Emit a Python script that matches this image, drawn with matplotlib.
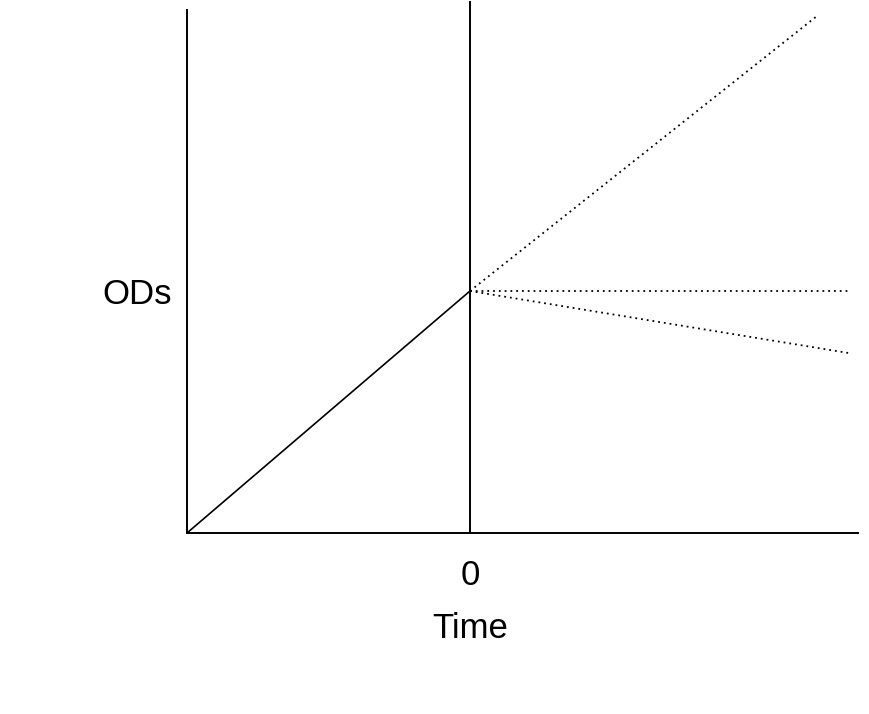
import matplotlib
matplotlib.use("Agg")
from matplotlib import pyplot as plt

plt.rcParams['font.family'] = ['Liberation Sans', 'DejaVu Sans']

# growth before time 0
t_pre = [-1, 0]
od_pre = [0, 1]

# possible outcomes after time 0
t_post = [0, 1.226]
od_up = [1, 2.136]
t_flat = [0, 1.336]
od_flat = [1, 1]
t_down = [0, 1.336]
od_down = [1, 0.744]

fig = plt.figure(figsize=(8.7, 7.14), dpi=100)
ax = fig.add_axes([187 / 870, 181 / 714, 671 / 870, 523 / 714])

ax.plot(t_pre, od_pre, color="black", lw=1.2)
ax.plot(t_post, od_up, color="black", lw=1.3, linestyle=(0, (1, 2.2)))
ax.plot(t_flat, od_flat, color="black", lw=1.3, linestyle=(0, (1, 2.2)))
ax.plot(t_down, od_down, color="black", lw=1.3, linestyle=(0, (1, 2.2)))
ax.plot([0, 0], [0, 2.194], color="black", lw=1.4, clip_on=False)

ax.set_xlim(-1, 1.371)
ax.set_ylim(0, 2.161)
ax.spines["top"].set_visible(False)
ax.spines["right"].set_visible(False)
ax.spines["left"].set_linewidth(1.4)
ax.spines["bottom"].set_linewidth(1.4)

ax.set_xticks([0])
ax.set_xticklabels(["0"], fontsize=25)
ax.set_yticks([1])
ax.set_yticklabels(["ODs"], fontsize=25)
ax.tick_params(axis="x", length=0, pad=19)
ax.tick_params(axis="y", length=0, pad=11)
ax.set_xlabel("Time", fontsize=25)
ax.xaxis.set_label_coords(283 / 671, -95 / 523, transform=ax.transAxes)
ax.xaxis.label.set_va("center")

fig.savefig("out.png", dpi=100)
